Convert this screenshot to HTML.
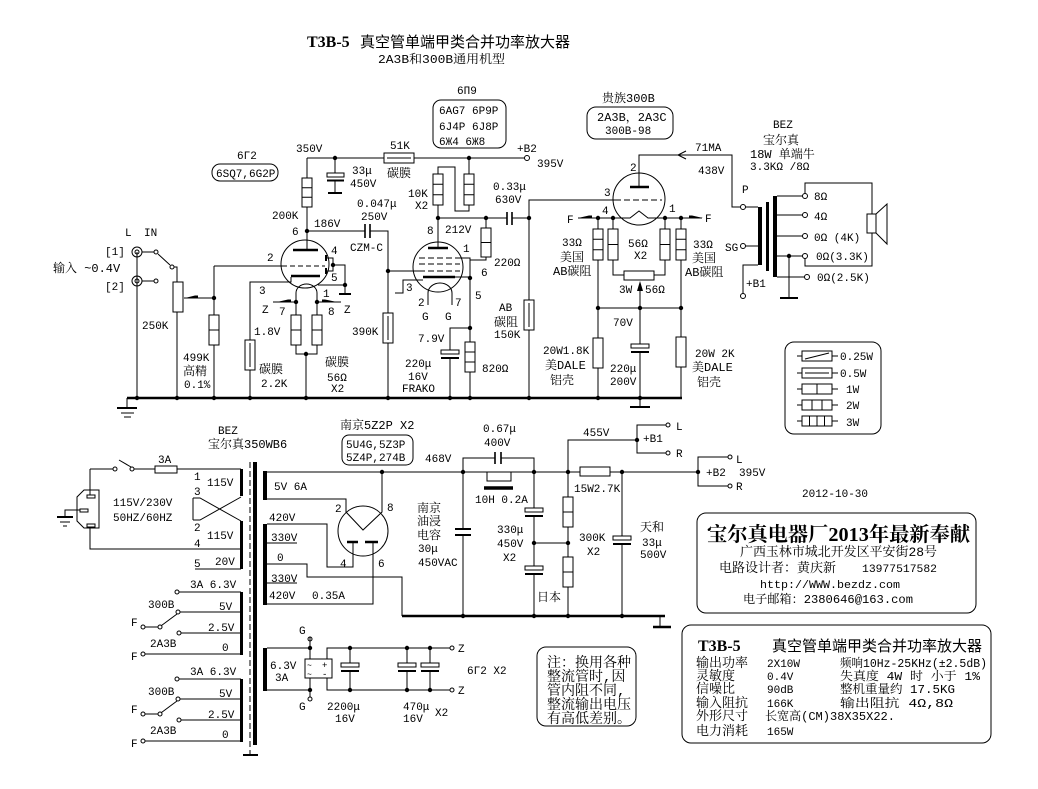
<!DOCTYPE html>
<html><head><meta charset="utf-8"><style>
html,body{margin:0;padding:0;background:#fff;}
svg{display:block;}
text{font-family:"Liberation Mono","Noto Serif CJK SC",monospace;font-size:11px;fill:#000;stroke:none;}
.c{font-size:12px;}
.b{font-size:13px;}
</style></head><body>
<svg width="1038" height="789" viewBox="0 0 1038 789" xmlns="http://www.w3.org/2000/svg">
<rect width="1038" height="789" fill="#fff"/>
<g fill="none" stroke="#000" stroke-width="1">
<!-- ===== TOP: 6SQ7 stage ===== -->
<path d="M307,158H384M414,158H524.5"/>
<rect x="384" y="153" width="30" height="10"/><path d="M387,158H411"/>
<circle cx="527" cy="158" r="2.5"/>
<path d="M335,158V173"/><rect x="327" y="173" width="17" height="4"/><path d="M327,180.5H344" stroke-width="2"/><path d="M335,181V193"/><path d="M328,193H342" stroke-width="2"/>
<path d="M307,158V178"/><rect x="302" y="178" width="10" height="29"/><path d="M302,187.7H312M302,197.3H312"/>
<path d="M307,207V250"/>
<path d="M307,231H365"/><path d="M365,224V238M370,224V238" stroke-width="1.6"/><path d="M370,231H388V313"/>
<rect x="383" y="313" width="10" height="30"/><path d="M388,316V340"/><path d="M388,343V398"/>
<circle cx="305" cy="264" r="24"/>
<path d="M293,250H318" stroke-width="2.5"/>
<path d="M214,266H282"/><path d="M282,266H325" stroke-dasharray="5,3"/>
<path d="M320,276H291" stroke-width="2.5"/><path d="M291,277V282H250V340"/>
<rect x="245" y="340" width="10" height="30"/><path d="M250,343V367"/><path d="M250,370V398"/>
<path d="M326,255V261M326,268V274" stroke-width="2"/><path d="M326,258H333V271H326M333,265H345V294M318,285H345"/><path d="M339,294H351" stroke-width="2"/>
<path d="M296,302V293A10.5,9 0 0 1 317,293V302"/>
<path d="M273,302H296M317,302H341"/>
<path d="M296,302V315M317,302V315"/>
<rect x="291" y="315" width="10" height="30"/><path d="M291,330H301"/>
<rect x="312" y="315" width="10" height="30"/><path d="M312,330H322"/>
<path d="M296,345V354H317V345M306,354V398"/>
<!-- input -->
<path d="M137,252V398"/>
<circle cx="137" cy="252" r="5"/><circle cx="137" cy="252" r="2"/>
<circle cx="137" cy="281" r="5"/><circle cx="137" cy="281" r="2"/>
<path d="M142,252H154M142,281H154"/>
<circle cx="156" cy="252" r="2"/><circle cx="156" cy="281" r="2"/><circle cx="172" cy="267" r="2"/>
<path d="M158,254L170,265M174,267H177V282"/>
<rect x="173" y="282" width="10" height="30"/><path d="M177,312V398"/>
<path d="M214,298H184"/>
<path d="M214,266V315"/><rect x="209" y="315" width="10" height="30"/><path d="M209,330H219"/><path d="M214,345V398"/>
<path d="M127,398H682" stroke-width="2.5"/>
<path d="M127,398V408"/><path d="M117,408H137" stroke-width="2"/><path d="M121,413H134M124,417H131"/>
<!-- ===== 6P9 stage ===== -->
<path d="M469,158V174"/><rect x="464" y="174" width="10" height="31"/><path d="M464,184.3H474M464,194.7H474"/>
<path d="M469,205V211H455V167H438V174"/>
<rect x="433" y="174" width="10" height="31"/><path d="M433,184.3H443M433,194.7H443"/>
<path d="M438,205V248"/>
<circle cx="438" cy="267" r="25"/>
<path d="M428,248H448" stroke-width="2.5"/>
<path d="M419,258H460M419,264H460M419,271H460" stroke-dasharray="6,3"/>
<path d="M388,271H419"/>
<path d="M460,258H470V260H486V257"/>
<path d="M438,218H507"/><path d="M507,212V225M512,212V225" stroke-width="1.6"/><path d="M512,218H529"/>
<path d="M486,218V228"/><rect x="481" y="228" width="10" height="29"/><path d="M481,242.5H491"/>
<path d="M423,277H455" stroke-width="2.5"/><path d="M455,277H470"/>
<path d="M423,280H403V293H395"/>
<path d="M428,305V293A12,10 0 0 1 452,293V305"/>
<path d="M470,260V342"/><rect x="465" y="342" width="10" height="30"/><path d="M465,352H475M465,362H475"/><path d="M470,372V398"/>
<path d="M470,328H450V350"/><rect x="441" y="350" width="18" height="4"/><path d="M441,358H459" stroke-width="2"/><path d="M450,358V398"/>
<path d="M529,218V300"/><rect x="524" y="300" width="10" height="30"/><path d="M529,303V327"/><path d="M529,330V398"/>
<path d="M529,218V200H615"/><path d="M615,200H662" stroke-dasharray="6,3"/>
<!-- ===== 300B ===== -->
<circle cx="639" cy="199" r="26"/>
<path d="M630,187H649" stroke-width="2.5"/>
<path d="M639,187V155H732V207H740.5"/><path d="M686,151L678,155L686,159"/>
<circle cx="743" cy="207" r="2.5"/><path d="M745.5,207H758"/>
<path d="M578,218H630L639,211L648,218H702"/>
<path d="M598,218V229"/><rect x="593" y="229" width="10" height="31"/><path d="M593,239.3H603M593,249.7H603"/>
<path d="M598,260V338"/><rect x="593" y="338" width="10" height="30"/><path d="M598,368V398"/>
<path d="M613,218V229"/><rect x="608" y="229" width="10" height="31"/><path d="M608,244.5H618"/>
<path d="M613,260V275H624"/><rect x="624" y="271" width="30" height="9"/><path d="M654,275H665V260"/>
<rect x="660" y="229" width="10" height="31"/><path d="M660,244.5H670"/><path d="M665,229V218"/>
<path d="M681,218V229"/><rect x="676" y="229" width="10" height="31"/><path d="M676,239.3H686M676,249.7H686"/>
<path d="M681,260V337"/><rect x="676" y="337" width="10" height="30"/><path d="M681,367V398"/>
<path d="M598,308H681"/>
<path d="M640,291V344"/><rect x="631" y="344" width="18" height="4"/><path d="M631,352H649" stroke-width="2"/><path d="M640,352V407"/><path d="M630,407H650" stroke-width="2"/>
<!-- ===== OPT ===== -->
<circle cx="743" cy="246" r="2.5"/><path d="M745.5,246H758"/>
<path d="M758,265H743V293.5"/><circle cx="743" cy="296" r="2.5"/>
<path d="M777,196H802.5M777,215H802.5M777,236H802.5M777,256H802.5M777,277H804.5"/>
<circle cx="805" cy="196" r="2.5"/><circle cx="805" cy="215" r="2.5"/><circle cx="805" cy="236" r="2.5"/><circle cx="805" cy="256" r="2.5"/><circle cx="807" cy="277" r="2.5"/>
<path d="M789,256V298"/><path d="M780,298H798" stroke-width="2"/>
<path d="M805,193.5V183H872V214"/><rect x="867" y="214" width="9" height="19"/><path d="M876,214L887,204V244L876,233"/>
<path d="M872,233V266H805V258.5"/>
<!-- legend -->
<rect x="785" y="342" width="96" height="92" rx="9"/>
<path d="M797,356H802M832,356H838"/><rect x="802" y="351" width="30" height="10"/><path d="M805,359L829,353"/>
<path d="M797,373H802M832,373H838"/><rect x="802" y="368" width="30" height="10"/><path d="M805,373H829"/>
<path d="M797,389H802M832,389H838"/><rect x="802" y="384" width="30" height="10"/><path d="M817,384V394"/>
<path d="M797,405H802M832,405H838"/><rect x="802" y="400" width="30" height="10"/><path d="M812,400V410M822,400V410"/>
<path d="M797,421H802M832,421H838"/><rect x="802" y="416" width="30" height="10"/><path d="M809.5,416V426M817,416V426M824.5,416V426"/>
<!-- boxes -->
<rect x="212" y="164" width="66" height="17" rx="8"/>
<rect x="433" y="100" width="73" height="48" rx="8"/>
<rect x="587" y="107" width="86" height="32" rx="9"/>
<rect x="342" y="435" width="71" height="30" rx="7"/>
<rect x="537" y="647" width="99" height="79" rx="9"/>
<rect x="697" y="513" width="279" height="100" rx="9"/>
<rect x="682" y="625" width="309" height="118" rx="9"/>
<!-- ===== POWER TRANSFORMER ===== -->
<path d="M90,469H113"/><circle cx="115" cy="469" r="2"/><circle cx="132" cy="469" r="2"/><path d="M119,460L131,467"/>
<path d="M134,469H155"/><rect x="155" y="466" width="22" height="7"/><path d="M177,469H241"/>
<path d="M193,498H200L241,521M193,520H200L241,497M193,498V520"/>
<path d="M90,469V495M90,527V549H241M195,569H241"/>
<path d="M84,490H99V528H84L77,521V497Z"/>
<rect x="87" y="495" width="8" height="3"/><rect x="80" y="509" width="8" height="3"/><rect x="87" y="524" width="8" height="3"/>
<path d="M80,510H65V517"/><path d="M57,517H73" stroke-width="2"/><path d="M60,522H70M63,526H67"/>
<path d="M250,462V755" stroke-dasharray="6,3"/><path d="M243,755H258" stroke-width="2"/>
<path d="M179,592H241M180,612H241M181,633H241M145,654H241"/>
<circle cx="177" cy="592" r="2"/><circle cx="178" cy="612" r="2"/><circle cx="179" cy="633" r="2"/><circle cx="143" cy="654" r="2"/>
<circle cx="143" cy="627" r="2"/><path d="M145,627H158"/><circle cx="160" cy="627" r="2"/><path d="M161.5,625.5L177,614"/>
<path d="M179,679H241M180,699H241M181,720H241M145,741H241"/>
<circle cx="177" cy="679" r="2"/><circle cx="178" cy="699" r="2"/><circle cx="179" cy="720" r="2"/><circle cx="143" cy="741" r="2"/>
<circle cx="143" cy="714" r="2"/><path d="M145,714H158"/><circle cx="160" cy="714" r="2"/><path d="M161.5,712.5L177,701"/>
<!-- secondaries -->
<path d="M267,472H580M610,472H698"/>
<path d="M267,499H346V512L363,530L382,512V472"/>
<circle cx="363" cy="531" r="25"/>
<path d="M267,524H327V567H353V542"/>
<path d="M347,542H358M365,542H378" stroke-width="2.5"/>
<path d="M373,542V604H267"/>
<path d="M267,543H297M267,583H297"/>
<path d="M267,564H307V577H402V616"/>
<path d="M402,616H665" stroke-width="2.5"/>
<path d="M660,616V627"/><path d="M653,627H671" stroke-width="2.5"/>
<path d="M463,472V458H495"/><path d="M495,452V464M501,452V464" stroke-width="1.6"/><path d="M501,458H534V472"/>
<path d="M487,472V481H511V472"/><path d="M484,488H513" stroke-width="3.5"/>
<path d="M463,472V529M463,535V616"/><path d="M455,529H471M455,535H471" stroke-width="2"/>
<path d="M534,472V508"/><rect x="525" y="508" width="18" height="4"/><path d="M525,516H543" stroke-width="2"/><path d="M534,516V566"/><rect x="525" y="566" width="18" height="4"/><path d="M525,574H543" stroke-width="2"/><path d="M534,574V616"/>
<path d="M534,543H568"/>
<path d="M568,472V497"/><rect x="563" y="497" width="10" height="30"/><path d="M563,512H573"/><path d="M568,527V557"/><rect x="563" y="557" width="10" height="30"/><path d="M563,572H573"/><path d="M568,587V616"/>
<rect x="580" y="467" width="30" height="9"/>
<path d="M568,472V440H637V425H666M637,440V453H666"/><circle cx="668" cy="425" r="2"/><circle cx="668" cy="453" r="2"/>
<path d="M622,472V536"/><rect x="613" y="536" width="18" height="4"/><path d="M613,544H631" stroke-width="2"/><path d="M622,544V616"/>
<path d="M698,472V457H728M698,472V486H728"/><circle cx="730" cy="457" r="2"/><circle cx="730" cy="486" r="2"/>
<!-- heater DC -->
<path d="M267,648H310V659M267,690H310V678"/>
<rect x="305" y="659" width="27" height="19"/>
<path d="M310,648V637M310,690V697"/><circle cx="310" cy="639" r="2"/><circle cx="310" cy="699" r="2"/>
<path d="M327,659V648H450M327,678V690H450"/><circle cx="452" cy="648" r="2"/><circle cx="452" cy="690" r="2"/>
<path d="M350,648V663"/><rect x="341" y="663" width="18" height="4"/><path d="M341,671H359" stroke-width="2"/><path d="M350,671V690"/>
<path d="M407,648V663"/><rect x="398" y="663" width="18" height="4"/><path d="M398,671H416" stroke-width="2"/><path d="M407,671V690"/>
<path d="M430,648V663"/><rect x="421" y="663" width="18" height="4"/><path d="M421,671H439" stroke-width="2"/><path d="M430,671V690"/>
</g>
<!-- filled shapes -->
<g fill="#000" stroke="none">
<rect x="758" y="207" width="4" height="58"/><rect x="766" y="202" width="3" height="69"/><rect x="773" y="196" width="4" height="81"/>
<rect x="240" y="469" width="3" height="27"/><rect x="240" y="521" width="3" height="48"/>
<rect x="253" y="462" width="4" height="283"/>
<rect x="240" y="592" width="3" height="63"/><rect x="240" y="679" width="3" height="63"/>
<rect x="263" y="471" width="4" height="29"/><rect x="263" y="524" width="4" height="81"/><rect x="263" y="648" width="4" height="43"/>
<polygon points="277,302 288,299.5 291,299.5 291,302"/>
<polygon points="322,302 322,299.5 325,299.5 337,302"/>
<polygon points="185,298 195,295.5 198,295.5 198,298"/>
<polygon points="578,218 589,215.5 592,215.5 592,218"/>
<polygon points="689,218 689,215.5 692,215.5 703,218"/>
<polygon points="640,281 637,291 643,291"/>
<circle cx="335" cy="158" r="2.2"/><circle cx="469" cy="158" r="2.2"/><circle cx="307" cy="231" r="2.2"/><circle cx="214" cy="298" r="2.2"/>
<circle cx="296" cy="302" r="2.2"/><circle cx="317" cy="302" r="2.2"/><circle cx="306" cy="354" r="2.2"/><circle cx="345" cy="285" r="2.2"/><circle cx="333" cy="265" r="2.2"/>
<circle cx="388" cy="271" r="2.2"/><circle cx="438" cy="218" r="2.2"/><circle cx="486" cy="218" r="2.2"/><circle cx="529" cy="218" r="2.2"/>
<circle cx="470" cy="278" r="2.2"/><circle cx="470" cy="328" r="2.2"/>
<circle cx="598" cy="218" r="2.2"/><circle cx="613" cy="218" r="2.2"/><circle cx="665" cy="218" r="2.2"/><circle cx="681" cy="218" r="2.2"/>
<circle cx="598" cy="308" r="2.2"/><circle cx="640" cy="308" r="2.2"/><circle cx="681" cy="308" r="2.2"/><circle cx="789" cy="256" r="2.2"/>
<circle cx="137" cy="398" r="2.2"/><circle cx="177" cy="398" r="2.2"/><circle cx="214" cy="398" r="2.2"/><circle cx="250" cy="398" r="2.2"/><circle cx="306" cy="398" r="2.2"/><circle cx="388" cy="398" r="2.2"/><circle cx="450" cy="398" r="2.2"/><circle cx="470" cy="398" r="2.2"/><circle cx="529" cy="398" r="2.2"/><circle cx="598" cy="398" r="2.2"/><circle cx="640" cy="398" r="2.2"/>
<circle cx="382" cy="472" r="2.2"/><circle cx="463" cy="472" r="2.2"/><circle cx="534" cy="472" r="2.2"/><circle cx="568" cy="472" r="2.2"/><circle cx="622" cy="472" r="2.2"/><circle cx="698" cy="472" r="2.2"/><circle cx="637" cy="440" r="2.2"/>
<circle cx="534" cy="543" r="2.2"/><circle cx="568" cy="543" r="2.2"/>
<circle cx="463" cy="616" r="2.2"/><circle cx="534" cy="616" r="2.2"/><circle cx="568" cy="616" r="2.2"/><circle cx="622" cy="616" r="2.2"/>
<circle cx="310" cy="648" r="2.2"/><circle cx="310" cy="690" r="2.2"/><circle cx="350" cy="648" r="2.2"/><circle cx="350" cy="690" r="2.2"/><circle cx="407" cy="648" r="2.2"/><circle cx="407" cy="690" r="2.2"/><circle cx="430" cy="648" r="2.2"/><circle cx="430" cy="690" r="2.2"/>
</g>
<!-- ===== TEXT ===== -->
<text x="307" y="47" style="font-family:'Liberation Serif',serif;font-weight:bold;font-size:16px">T3B-5</text>
<text x="360" y="47" style="font-family:'Liberation Sans','Noto Sans CJK SC',sans-serif;font-size:15px" textLength="210" lengthAdjust="spacingAndGlyphs">真空管单端甲类合并功率放大器</text>
<text x="378" y="63" class="c" textLength="127" lengthAdjust="spacingAndGlyphs">2A3B和300B通用机型</text>

<text x="237" y="159">6Г2</text>
<text x="216" y="177">6SQ7,6G2P</text>
<text x="296" y="152">350V</text>
<text x="352" y="174">33μ</text>
<text x="350" y="187">450V</text>
<text x="272" y="219">200K</text>
<text x="292" y="235">6</text>
<text x="314" y="227">186V</text>
<text x="357" y="207">0.047μ</text>
<text x="361" y="220">250V</text>
<text x="350" y="251">CZM-C</text>
<text x="267" y="261">2</text>
<text x="331" y="254">4</text>
<text x="331" y="281">5</text>
<text x="259" y="294">3</text>
<text x="323" y="297">1</text>
<text x="262" y="313">Z</text><text x="279" y="315">7</text><text x="328" y="315">8</text><text x="344" y="313">Z</text>
<text x="125" y="236">L</text><text x="144" y="236">IN</text>
<text x="105" y="255">[1]</text>
<text x="53" y="272" class="c">输入 ~0.4V</text>
<text x="105" y="290">[2]</text>
<text x="142" y="329">250K</text>
<text x="183" y="361">499K</text>
<text x="183" y="375" class="c">高精</text>
<text x="184" y="388">0.1%</text>
<text x="254" y="335">1.8V</text>
<text x="259" y="373" class="c">碳膜</text>
<text x="261" y="387">2.2K</text>
<text x="325" y="366" class="c">碳膜</text>
<text x="327" y="381">56Ω</text>
<text x="331" y="392">X2</text>

<text x="457" y="94">6Π9</text>
<text x="439" y="114">6AG7 6P9P</text>
<text x="439" y="130">6J4P 6J8P</text>
<text x="439" y="145">6Ж4 6Ж8</text>
<text x="390" y="149">51K</text>
<text x="387" y="177" class="c">碳膜</text>
<text x="517" y="152">+B2</text>
<text x="537" y="167">395V</text>
<text x="408" y="197">10K</text>
<text x="415" y="209">X2</text>
<text x="493" y="190">0.33μ</text>
<text x="495" y="203">630V</text>
<text x="427" y="234">8</text>
<text x="445" y="233">212V</text>
<text x="463" y="252">1</text>
<text x="494" y="266">220Ω</text>
<text x="481" y="276">6</text>
<text x="406" y="291">3</text>
<text x="475" y="299">5</text>
<text x="418" y="306">2</text><text x="455" y="306">7</text>
<text x="422" y="320">G</text><text x="445" y="320">G</text>
<text x="352" y="335">390K</text>
<text x="418" y="342">7.9V</text>
<text x="405" y="367">220μ</text>
<text x="408" y="380">16V</text>
<text x="402" y="392">FRAKO</text>
<text x="482" y="372">820Ω</text>
<text x="499" y="311">AB</text>
<text x="494" y="326" class="c">碳阻</text>
<text x="494" y="338">150K</text>

<text x="604" y="196">3</text>
<text x="567" y="223">F</text>
<text x="602" y="214">4</text>
<text x="562" y="246">33Ω</text>
<text x="560" y="261" class="c">美国</text>
<text x="553" y="275" class="c">AB碳阻</text>
<text x="628" y="247">56Ω</text>
<text x="634" y="259">X2</text>
<text x="619" y="293">3W</text><text x="645" y="293">56Ω</text>
<text x="602" y="102" class="c">贵族300B</text>
<text x="597" y="121" class="c">2A3B，2A3C</text>
<text x="605" y="134">300B-98</text>
<text x="630" y="171">2</text>
<text x="669" y="212">1</text>
<text x="705" y="222">F</text>
<text x="613" y="326">70V</text>
<text x="543" y="354">20W1.8K</text>
<text x="545" y="369" class="c">美DALE</text>
<text x="550" y="384" class="c">铝壳</text>
<text x="610" y="372">220μ</text>
<text x="610" y="385">200V</text>
<text x="695" y="151">71MA</text>
<text x="698" y="174">438V</text>
<text x="693" y="248">33Ω</text>
<text x="692" y="262" class="c">美国</text>
<text x="685" y="276" class="c">AB碳阻</text>
<text x="695" y="357">20W 2K</text>
<text x="692" y="371" class="c">美DALE</text>
<text x="697" y="386" class="c">铝壳</text>

<text x="773" y="128">BEZ</text>
<text x="763" y="144" class="c">宝尔真</text>
<text x="750" y="158" class="c">18W 单端牛</text>
<text x="750" y="170">3.3KΩ /8Ω</text>
<text x="742" y="193">P</text>
<text x="725" y="251">SG</text>
<text x="746" y="287">+B1</text>
<text x="814" y="200">8Ω</text>
<text x="814" y="220">4Ω</text>
<text x="814" y="241">0Ω (4K)</text>
<text x="816" y="260">0Ω(3.3K)</text>
<text x="817" y="281">0Ω(2.5K)</text>
<text x="840" y="360">0.25W</text>
<text x="840" y="377">0.5W</text>
<text x="846" y="393">1W</text>
<text x="846" y="409">2W</text>
<text x="846" y="426">3W</text>

<text x="218" y="434">BEZ</text>
<text x="208" y="448" class="c">宝尔真350WB6</text>
<text x="158" y="463">3A</text>
<text x="194" y="480">1</text><text x="207" y="486">115V</text>
<text x="194" y="495">3</text>
<text x="194" y="531">2</text><text x="207" y="539">115V</text>
<text x="194" y="547">4</text>
<text x="194" y="567">5</text><text x="215" y="565">20V</text>
<text x="113" y="506">115V/230V</text>
<text x="113" y="521">50HZ/60HZ</text>
<text x="190" y="588">3A 6.3V</text>
<text x="148" y="608">300B</text><text x="219" y="610">5V</text>
<text x="131" y="626">F</text><text x="208" y="631">2.5V</text>
<text x="150" y="647">2A3B</text><text x="222" y="651">0</text>
<text x="131" y="660">F</text>
<text x="190" y="675">3A 6.3V</text>
<text x="148" y="695">300B</text><text x="219" y="697">5V</text>
<text x="131" y="713">F</text><text x="208" y="718">2.5V</text>
<text x="150" y="734">2A3B</text><text x="222" y="738">0</text>
<text x="131" y="747">F</text>
<text x="274" y="490">5V 6A</text>
<text x="269" y="521">420V</text>
<text x="271" y="541">330V</text>
<text x="277" y="561">0</text>
<text x="271" y="582">330V</text>
<text x="269" y="599">420V</text>
<text x="312" y="599">0.35A</text>
<text x="340" y="429" class="c">南京5Z2P X2</text>
<text x="346" y="448">5U4G,5Z3P</text>
<text x="346" y="461">5Z4P,274B</text>
<text x="335" y="512">2</text><text x="387" y="511">8</text>
<text x="340" y="567">4</text><text x="378" y="567">6</text>
<text x="425" y="462">468V</text>
<text x="483" y="432">0.67μ</text>
<text x="484" y="446">400V</text>
<text x="475" y="503">10H 0.2A</text>
<text x="417" y="512" class="c">南京</text>
<text x="417" y="525" class="c">油浸</text>
<text x="417" y="539" class="c">电容</text>
<text x="418" y="552">30μ</text>
<text x="418" y="566">450VAC</text>
<text x="497" y="533">330μ</text>
<text x="497" y="547">450V</text>
<text x="503" y="561">X2</text>
<text x="537" y="601" class="c">日本</text>
<text x="579" y="541">300K</text>
<text x="587" y="555">X2</text>
<text x="574" y="492">15W2.7K</text>
<text x="640" y="531" class="c">天和</text>
<text x="642" y="546">33μ</text>
<text x="640" y="558">500V</text>
<text x="583" y="436">455V</text>
<text x="643" y="442">+B1</text>
<text x="676" y="430">L</text><text x="676" y="457">R</text>
<text x="706" y="476">+B2</text><text x="739" y="476">395V</text>
<text x="736" y="463">L</text><text x="736" y="490">R</text>
<text x="802" y="497">2012-10-30</text>
<text x="270" y="669">6.3V</text>
<text x="275" y="681">3A</text>
<text x="299" y="634">G</text><text x="299" y="710">G</text>
<text x="307" y="668" style="font-size:8px">~</text><text x="322" y="668" style="font-size:9px">+</text>
<text x="307" y="677" style="font-size:8px">~</text><text x="322" y="677" style="font-size:9px">-</text>
<text x="458" y="652">Z</text><text x="458" y="694">Z</text>
<text x="467" y="674">6Г2 X2</text>
<text x="327" y="710">2200μ</text><text x="335" y="722">16V</text>
<text x="403" y="710">470μ</text><text x="403" y="722">16V</text><text x="435" y="716">X2</text>

<text x="547" y="667" style="font-size:14px">注：换用各种</text>
<text x="547" y="681" style="font-size:14px">整流管时,因</text>
<text x="547" y="695" style="font-size:14px">管内阻不同,</text>
<text x="547" y="709" style="font-size:14px">整流输出电压</text>
<text x="547" y="723" style="font-size:14px">有高低差别。</text>

<text x="707" y="541" style="font-family:'Liberation Serif','Noto Serif CJK SC',serif;font-weight:bold;font-size:20px" textLength="263" lengthAdjust="spacingAndGlyphs">宝尔真电器厂2013年最新奉献</text>
<text x="740" y="556" class="b" textLength="197" lengthAdjust="spacingAndGlyphs">广西玉林市城北开发区平安街28号</text>
<text x="719" y="572" class="b">电路设计者：黄庆新</text>
<text x="862" y="572" textLength="75" lengthAdjust="spacingAndGlyphs">13977517582</text>
<text x="760" y="588" textLength="140" lengthAdjust="spacingAndGlyphs">http://WWW.bezdz.com</text>
<text x="743" y="603" class="c" textLength="170" lengthAdjust="spacingAndGlyphs">电子邮箱：2380646@163.com</text>

<text x="698" y="651" style="font-family:'Liberation Serif',serif;font-weight:bold;font-size:16px">T3B-5</text>
<text x="772" y="651" style="font-family:'Liberation Sans','Noto Sans CJK SC',sans-serif;font-size:15px" textLength="210" lengthAdjust="spacingAndGlyphs">真空管单端甲类合并功率放大器</text>
<text x="696" y="667" class="b">输出功率</text><text x="767" y="667">2X10W</text><text x="840" y="667" class="c" textLength="147" lengthAdjust="spacingAndGlyphs">频响10Hz-25KHz(±2.5dB)</text>
<text x="696" y="680" class="b">灵敏度</text><text x="767" y="680">0.4V</text><text x="840" y="680" class="c" textLength="140" lengthAdjust="spacingAndGlyphs">失真度  4W 时  小于 1%</text>
<text x="696" y="693" class="b">信噪比</text><text x="767" y="693">90dB</text><text x="840" y="693" class="c" textLength="115" lengthAdjust="spacingAndGlyphs">整机重量约 17.5KG</text>
<text x="696" y="707" class="b">输入阻抗</text><text x="767" y="707">166K</text><text x="840" y="707" class="c" textLength="113" lengthAdjust="spacingAndGlyphs">输出阻抗     4Ω,8Ω</text>
<text x="696" y="720" class="b">外形尺寸</text><text x="765" y="720" class="c" textLength="130" lengthAdjust="spacingAndGlyphs">长宽高(CM)38X35X22.</text>
<text x="696" y="735" class="b">电力消耗</text><text x="767" y="735">165W</text>
</svg>
</body></html>
